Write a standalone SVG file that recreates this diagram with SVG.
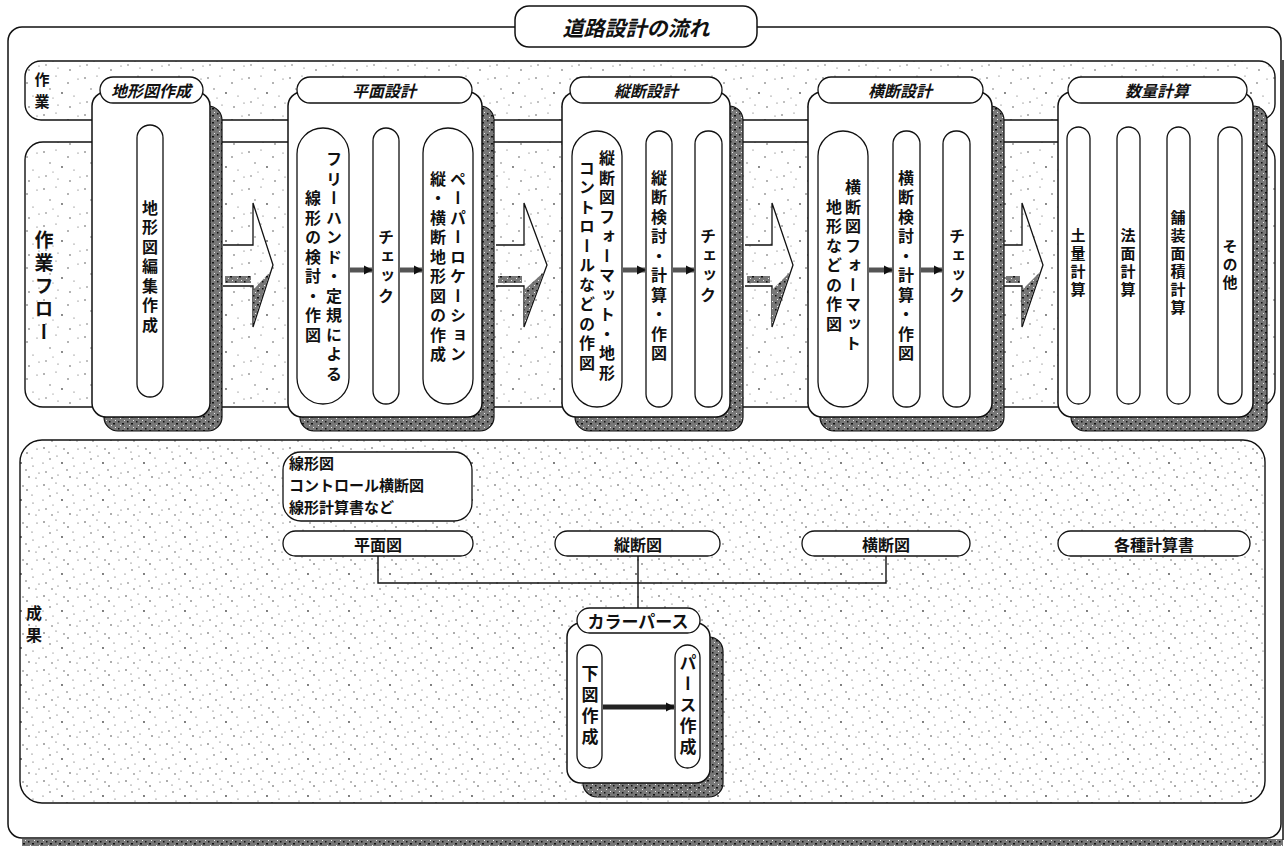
<svg xmlns="http://www.w3.org/2000/svg" width="1285" height="849" viewBox="0 0 1285 849">
<defs>
<pattern id="st" width="41" height="37" patternUnits="userSpaceOnUse">
<rect width="41" height="37" fill="#fff"/>
<g fill="#555">
<circle cx="3" cy="4" r="0.8"/><circle cx="15" cy="2" r="0.6"/><circle cx="27" cy="9" r="0.8"/><circle cx="37" cy="5" r="0.6"/>
<circle cx="9" cy="15" r="0.7"/><circle cx="21" cy="19" r="0.9"/><circle cx="33" cy="22" r="0.6"/><circle cx="5" cy="28" r="0.7"/>
<circle cx="17" cy="31" r="0.6"/><circle cx="29" cy="33" r="0.8"/><circle cx="39" cy="29" r="0.6"/><circle cx="12" cy="24" r="0.5"/>
</g>
</pattern>
<pattern id="st2" width="41" height="37" patternUnits="userSpaceOnUse">
<rect width="41" height="37" fill="#fff"/>
<g fill="#444">
<circle cx="3" cy="4" r="0.8"/><circle cx="15" cy="2" r="0.6"/><circle cx="27" cy="9" r="0.8"/><circle cx="37" cy="5" r="0.6"/>
<circle cx="9" cy="15" r="0.7"/><circle cx="21" cy="19" r="0.9"/><circle cx="33" cy="22" r="0.6"/><circle cx="5" cy="28" r="0.7"/>
<circle cx="17" cy="31" r="0.6"/><circle cx="29" cy="33" r="0.8"/><circle cx="39" cy="29" r="0.6"/><circle cx="12" cy="24" r="0.5"/>
<circle cx="8" cy="8" r="0.6"/><circle cx="23" cy="5" r="0.7"/><circle cx="32" cy="14" r="0.6"/><circle cx="2" cy="19" r="0.6"/>
<circle cx="16" cy="12" r="0.6"/><circle cx="26" cy="26" r="0.7"/><circle cx="36" cy="34" r="0.6"/><circle cx="11" cy="34" r="0.7"/>
</g>
</pattern>
<pattern id="sh" width="9" height="7" patternUnits="userSpaceOnUse">
<rect width="9" height="7" fill="#777"/>
<rect x="1" y="1" width="1.5" height="1.5" fill="#111"/><rect x="5" y="3" width="2" height="1.5" fill="#111"/>
<rect x="3" y="5" width="1" height="1" fill="#eee"/><rect x="7" y="0" width="1" height="1" fill="#eee"/>
</pattern>
<marker id="ah" viewBox="0 0 10 10" refX="9" refY="5" markerWidth="9" markerHeight="10" markerUnits="userSpaceOnUse" orient="auto"><path d="M0,0 L10,5 L0,10 z" fill="#111"/></marker>
<style>
.ln{fill:none;stroke:#111;stroke-width:1.4}
.band{fill:url(#st);stroke:#111;stroke-width:1.4}
.card{fill:#fff;stroke:#111;stroke-width:1.5}
.shd{fill:url(#sh);stroke:#111;stroke-width:1.2}
.pill{fill:#fff;stroke:#111;stroke-width:1.3}
.t{font-family:"Noto Sans CJK JP",sans-serif;font-weight:bold;fill:#111}
.h{font-family:"Noto Sans CJK JP",sans-serif;font-weight:bold;font-style:italic;font-size:16px;text-anchor:middle;dominant-baseline:central;fill:#111}
.v{font-family:"Noto Sans CJK JP",sans-serif;font-weight:bold;font-size:16px;writing-mode:vertical-rl;text-orientation:upright;text-anchor:middle;letter-spacing:3.5px;fill:#111}
.vs{font-size:15px;letter-spacing:3px}
.c{text-anchor:middle;dominant-baseline:central;font-size:16px}
.sm{fill:none;stroke:#555;stroke-width:5;marker-end:url(#ah)}
.big{fill:url(#st);stroke:#111;stroke-width:1.3}
.dk{fill:url(#sh)}
</style>
</defs>
<rect width="1285" height="849" fill="#fff"/>

<g id="frame">
<rect x="22" y="839" width="1261" height="7" fill="url(#sh)"/>
<line x1="1283" y1="60" x2="1283" y2="840" stroke="#111" stroke-width="1.5"/>
<rect x="8" y="27" width="1273" height="811" rx="14" fill="#fff" stroke="#111" stroke-width="1.5"/>
</g>

<g id="title">
<rect x="515" y="6" width="242" height="41" rx="14" fill="#fff" stroke="#111" stroke-width="1.5"/>
<text x="636" y="27" class="h" style="font-size:21px">道路設計の流れ</text>
</g>

<g id="band-sagyo">
<rect x="25" y="61" width="1250" height="59" rx="16" class="band"/>
<text x="42" y="78" class="t c" style="font-size:15px">作</text>
<text x="42" y="100" class="t c" style="font-size:15px">業</text>
</g>

<g id="band-flow">
<rect x="25" y="142" width="1250" height="265" rx="18" class="band"/>
<text x="44" y="288" class="v" style="font-size:19px;letter-spacing:4px">作業フロー</text>
</g>

<g id="band-seika">
<rect x="20" y="440" width="1245" height="363" rx="22" fill="url(#st2)" stroke="#111" stroke-width="1.4"/>
<text x="34" y="612" class="t c">成</text>
<text x="34" y="634" class="t c">果</text>
</g>

<g id="connectors">
<path class="big" d="M223,245 H253 V203 L273,265 L253,327 V286 H223"/>
<polygon class="dk" points="253,290 253,325 270,272"/>
<rect class="dk" x="225" y="276" width="26" height="7"/>
<path class="big" d="M496,245 H524 V203 L547,265 L524,327 V286 H496"/>
<polygon class="dk" points="524,290 524,325 544,272"/>
<rect class="dk" x="498" y="276" width="24" height="7"/>
<path class="big" d="M745,245 H772 V203 L793,265 L772,327 V286 H745"/>
<polygon class="dk" points="772,290 772,325 790,272"/>
<rect class="dk" x="747" y="276" width="23" height="7"/>
<path class="big" d="M1004,245 H1022 V203 L1043,265 L1022,327 V286 H1004"/>
<polygon class="dk" points="1022,290 1022,325 1040,272"/>
<rect class="dk" x="1006" y="276" width="14" height="7"/>
</g>

<g id="card-chikei">
<rect x="104" y="106" width="118" height="325" rx="14" class="shd"/>
<rect x="92" y="92" width="118" height="325" rx="14" class="card"/>
<rect x="100" y="77" width="103" height="26" rx="13" class="pill"/>
<text x="151" y="90" class="h">地形図作成</text>
<rect x="137" y="125" width="26" height="272" rx="13" class="pill"/>
<text x="150" y="268" class="v">地形図編集作成</text>
</g>

<g id="card-heimen">
<rect x="300" y="106" width="194" height="325" rx="14" class="shd"/>
<rect x="288" y="92" width="194" height="325" rx="14" class="card"/>
<rect x="297" y="77" width="175" height="26" rx="13" class="pill"/>
<text x="384" y="90" class="h">平面設計</text>
<rect x="297" y="128" width="52" height="276" rx="26" class="pill"/>
<text x="334" y="268" class="v">フリーハンド・定規による</text>
<text x="313" y="268" class="v">線形の検討・作図</text>
<rect x="373" y="128" width="26" height="276" rx="13" class="pill"/>
<text x="386" y="268" class="v">チェック</text>
<rect x="423" y="128" width="50" height="276" rx="25" class="pill"/>
<text x="458" y="268" class="v">ペーパーロケーション</text>
<text x="438" y="268" class="v">縦・横断地形図の作成</text>
</g>

<g id="card-judan">
<rect x="575" y="106" width="168" height="325" rx="14" class="shd"/>
<rect x="562" y="92" width="168" height="325" rx="14" class="card"/>
<rect x="570" y="77" width="152" height="26" rx="13" class="pill"/>
<text x="646" y="90" class="h">縦断設計</text>
<rect x="572" y="131" width="50" height="276" rx="25" class="pill"/>
<text x="607" y="267" class="v">縦断図フォーマット・地形</text>
<text x="587" y="267" class="v">コントロールなどの作図</text>
<rect x="646" y="131" width="26" height="276" rx="13" class="pill"/>
<text x="659" y="267" class="v">縦断検討・計算・作図</text>
<rect x="695" y="131" width="27" height="276" rx="13" class="pill"/>
<text x="708" y="267" class="v">チェック</text>
</g>

<g id="card-odan">
<rect x="820" y="106" width="184" height="325" rx="14" class="shd"/>
<rect x="808" y="92" width="184" height="325" rx="14" class="card"/>
<rect x="818" y="77" width="165" height="26" rx="13" class="pill"/>
<text x="900" y="90" class="h">横断設計</text>
<rect x="818" y="131" width="50" height="276" rx="25" class="pill"/>
<text x="853" y="267" class="v">横断図フォーマット</text>
<text x="834" y="267" class="v">地形などの作図</text>
<rect x="893" y="131" width="27" height="276" rx="13" class="pill"/>
<text x="906" y="267" class="v">横断検討・計算・作図</text>
<rect x="943" y="131" width="27" height="276" rx="13" class="pill"/>
<text x="957" y="267" class="v">チェック</text>
</g>

<g id="card-suryo">
<rect x="1071" y="106" width="196" height="325" rx="14" class="shd"/>
<rect x="1058" y="92" width="195" height="325" rx="14" class="card"/>
<rect x="1068" y="77" width="179" height="26" rx="13" class="pill"/>
<text x="1157" y="90" class="h">数量計算</text>
<rect x="1067" y="127" width="23" height="277" rx="11.5" class="pill"/>
<text x="1078" y="264" class="v vs">土量計算</text>
<rect x="1117" y="127" width="23" height="277" rx="11.5" class="pill"/>
<text x="1128" y="264" class="v vs">法面計算</text>
<rect x="1167" y="127" width="23" height="277" rx="11.5" class="pill"/>
<text x="1178" y="264" class="v vs">舗装面積計算</text>
<rect x="1218" y="127" width="24" height="277" rx="12" class="pill"/>
<text x="1230" y="266" class="v vs">その他</text>
</g>

<g id="small-arrows">
<line class="sm" x1="350" y1="270" x2="372" y2="270"/>
<line class="sm" x1="400" y1="270" x2="422" y2="270"/>
<line class="sm" x1="623" y1="270" x2="645" y2="270"/>
<line class="sm" x1="673" y1="270" x2="694" y2="270"/>
<line class="sm" x1="869" y1="270" x2="892" y2="270"/>
<line class="sm" x1="921" y1="270" x2="942" y2="270"/>
</g>

<g id="out-links">
<path class="ln" d="M378,556 V583 H886 V556"/>
<line class="ln" x1="638" y1="556" x2="638" y2="608"/>
</g>

<g id="senkei">
<rect x="283" y="452" width="189" height="69" rx="18" class="pill"/>
<text class="t" style="font-size:15px"><tspan x="289" y="469">線形図</tspan><tspan x="289" y="491">コントロール横断図</tspan><tspan x="289" y="513">線形計算書など</tspan></text>
</g>
<g id="heimenzu">
<rect x="283" y="531" width="190" height="25" rx="12.5" class="pill"/>
<text x="378" y="543.5" class="t c">平面図</text>
</g>
<g id="judanzu">
<rect x="555" y="531" width="165" height="25" rx="12.5" class="pill"/>
<text x="638" y="543.5" class="t c">縦断図</text>
</g>
<g id="odanzu">
<rect x="802" y="531" width="168" height="25" rx="12.5" class="pill"/>
<text x="886" y="543.5" class="t c">横断図</text>
</g>
<g id="keisansho">
<rect x="1058" y="531" width="192" height="25" rx="12.5" class="pill"/>
<text x="1154" y="543.5" class="t c">各種計算書</text>
</g>

<g id="color-perse">
<rect x="583" y="637" width="140" height="160" rx="14" class="shd"/>
<rect x="567" y="623" width="143" height="160" rx="14" class="card"/>
<rect x="577" y="608" width="123" height="25" rx="12.5" class="pill"/>
<text x="638" y="620.5" class="t c" style="font-size:17px">カラーパース</text>
<rect x="577" y="645" width="25" height="123" rx="12.5" class="pill"/>
<text x="590" y="707" class="v" style="font-size:17px;letter-spacing:4px">下図作成</text>
<rect x="675" y="645" width="25" height="123" rx="12.5" class="pill"/>
<text x="688" y="707" class="v" style="font-size:17px;letter-spacing:4px">パース作成</text>
<line x1="603" y1="707" x2="674" y2="707" stroke="#222" stroke-width="5" marker-end="url(#ah)"/>
</g>
</svg>
